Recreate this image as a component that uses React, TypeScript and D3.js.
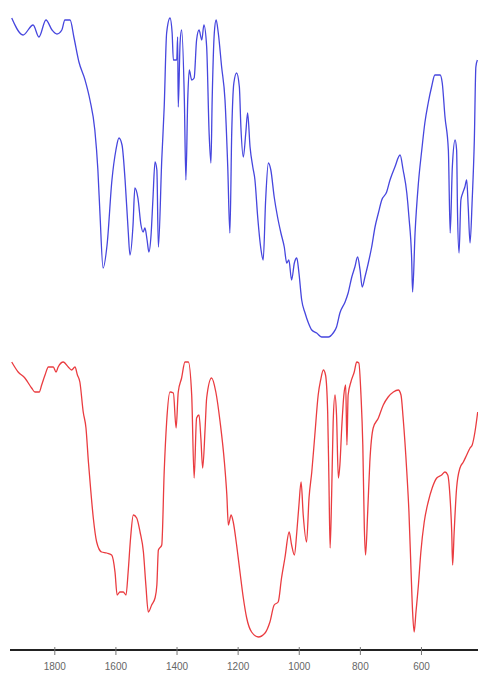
import React from "react";
import * as d3 from "d3";

// Wavenumbers (cm^-1) and transmittance (a.u.) for the upper (blue) spectrum
const blueWavenumber = [1941,1904,1871,1852,1829,1809,1793,1777,1767,1750,1737,1721,1701,1685,1669,1659,1652,1642,1629,1613,1600,1590,1580,1570,1560,1554,1544,1538,1528,1518,1511,1505,1498,1492,1485,1479,1472,1466,1461,1450,1442,1434,1423,1416,1412,1401,1398,1396,1390,1385,1376,1371,1365,1360,1352,1344,1336,1328,1319,1312,1303,1295,1289,1285,1278,1272,1265,1254,1243,1234,1227,1221,1214,1205,1196,1191,1183,1175,1169,1161,1152,1145,1136,1125,1118,1110,1101,1093,1082,1071,1060,1049,1041,1034,1025,1016,1008,1001,992,981,970,959,943,927,905,889,878,867,850,840,828,818,809,801,794,785,774,763,752,741,730,714,703,687,670,660,648,641,632,629,621,610,599,589,578,567,556,539,532,523,512,506,499,490,485,482,477,471,465,458,452,447,441,434,427,422,417];
const blueValue = [322,305,315,303,320,310,306,310,320,320,302,278,260,240,210,170,125,72,95,160,190,202,195,160,110,85,115,152,142,115,108,112,100,88,105,140,178,170,93,180,233,307,322,307,280,280,303,233,297,310,240,160,240,270,260,262,300,310,300,315,293,207,177,240,307,320,307,273,240,173,107,207,257,267,253,213,183,207,227,193,173,160,123,90,80,140,177,170,143,123,107,93,77,80,60,77,82,67,40,27,17,10,7,3,3,7,13,27,38,47,63,73,83,70,53,63,77,93,113,127,140,148,160,173,185,170,147,123,80,48,107,157,190,217,237,253,265,265,257,223,190,107,173,200,190,127,87,140,147,153,160,133,97,140,200,273,280];

// Wavenumbers (cm^-1) and transmittance (a.u.) for the lower (red) spectrum
const redWavenumber = [1941,1920,1898,1876,1865,1851,1843,1832,1821,1805,1796,1789,1772,1756,1745,1734,1726,1718,1707,1698,1690,1683,1674,1663,1647,1630,1614,1603,1596,1587,1576,1567,1560,1552,1543,1532,1521,1510,1502,1494,1483,1472,1466,1461,1450,1442,1434,1423,1412,1403,1396,1385,1374,1363,1352,1344,1336,1328,1322,1316,1308,1303,1287,1273,1259,1245,1237,1232,1223,1216,1205,1194,1183,1172,1156,1134,1112,1096,1082,1069,1058,1047,1033,1025,1016,1008,1001,994,987,976,968,959,949,938,930,921,914,907,903,899,894,889,883,878,872,867,861,854,848,844,840,831,820,812,805,798,792,787,783,776,769,758,741,725,709,692,676,667,660,648,641,634,629,624,618,610,602,591,578,565,550,534,523,514,507,501,498,493,485,474,463,452,441,434,425,416];
const redValue = [276,266,260,250,246,246,253,263,271,271,266,271,276,271,268,271,263,256,226,210,176,150,120,96,86,85,83,66,43,46,46,43,66,100,123,120,106,86,53,26,33,40,53,88,93,166,216,246,245,210,246,260,276,276,243,160,220,223,200,170,210,240,260,246,216,176,143,113,123,116,93,66,40,20,6,1,5,16,33,36,60,80,106,93,83,106,133,156,123,96,140,166,203,243,258,268,263,226,160,90,143,216,243,223,160,173,210,243,253,193,243,256,266,276,275,243,193,110,83,126,176,210,220,233,241,246,248,243,220,166,126,66,26,6,26,53,86,116,136,150,160,163,166,163,143,106,73,106,150,170,176,183,190,193,206,226];

const tickValues = [1800, 1600, 1400, 1200, 1000, 800, 600];

const W = 478;
const H = 673;

export default function App() {
  const x = d3.scaleLinear().domain([1945, 415]).range([10.5, 478]);
  const yBlue = d3.scaleLinear().domain([0, 325]).range([340, 15]);
  const yRed = d3.scaleLinear().domain([0, 278]).range([638, 360]);

  const blueData = blueWavenumber.map((w, i) => [w, blueValue[i]] as [number, number]);
  const redData = redWavenumber.map((w, i) => [w, redValue[i]] as [number, number]);

  const blueLine = d3.line<[number, number]>().curve(d3.curveMonotoneX).x(d => x(d[0])).y(d => yBlue(d[1]))(blueData) || "";
  const redLine = d3.line<[number, number]>().curve(d3.curveMonotoneX).x(d => x(d[0])).y(d => yRed(d[1]))(redData) || "";

  const axisY = 650;

  return (
    <svg width={W} height={H} style={{ position: "absolute", left: 0, top: 0, background: "#fff" }}>
      <path d={blueLine} fill="none" stroke="#4646de" strokeWidth={1.3} strokeLinejoin="round" />
      <path d={redLine} fill="none" stroke="#ea3c40" strokeWidth={1.3} strokeLinejoin="round" />
      <line x1={10} x2={478} y1={axisY} y2={axisY} stroke="#222" strokeWidth={2} />
      {tickValues.map(t => (
        <g key={t} transform={`translate(${x(t)},0)`}>
          <line y1={axisY - 3} y2={axisY + 5} stroke="#777" strokeWidth={1} />
          <text y={axisY + 20} textAnchor="middle" fontFamily="Liberation Sans, Arial, sans-serif" fontSize={10} fill="#666">{t}</text>
        </g>
      ))}
    </svg>
  );
}
